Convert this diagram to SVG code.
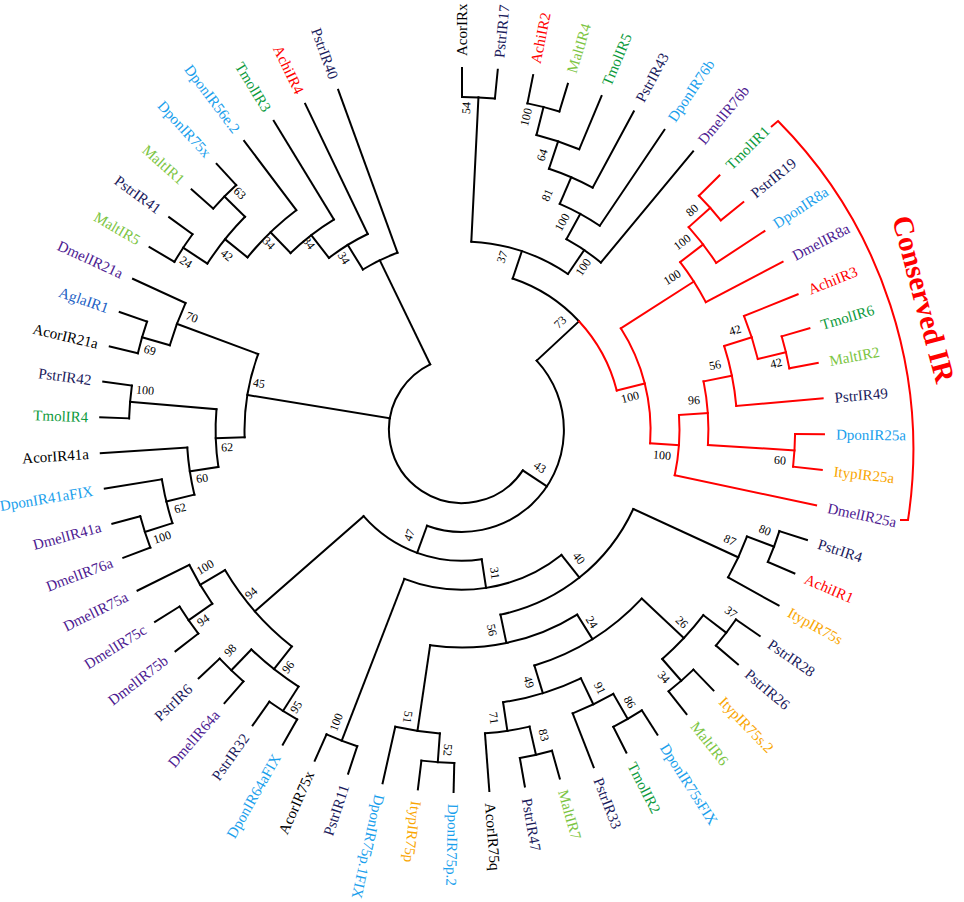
<svg xmlns="http://www.w3.org/2000/svg" width="964" height="902" viewBox="0 0 964 902">
<style>
.lf text{font-family:"Liberation Serif","Times New Roman",serif;font-size:15px}
.bs text{font-family:"Liberation Serif","Times New Roman",serif;font-size:12px;fill:#000}
.k{fill:#000}.n{fill:#1b1b5c}.p{fill:#4d1a91}.d{fill:#1aa0ec}.g{fill:#0c9a3c}.m{fill:#7cc543}.a{fill:#f00}.o{fill:#f9a602}.ag{fill:#2160c4}
.c circle{fill:none}
.rd{stroke:#f00}
</style>
<rect width="964" height="902" fill="#fff"/>
<g id="connectors" class="c" transform="translate(462,430)" fill="none" stroke="#000" stroke-width="2" stroke-linecap="square">
<line x1="333.1" x2="362" transform="rotate(-90)"/>
<line x1="333.1" x2="362" transform="rotate(-84.33)"/>
<line x1="333.1" x2="362" transform="rotate(-78.67)"/>
<line x1="333.1" x2="362" transform="rotate(-73)"/>
<line x1="304.2" x2="362" transform="rotate(-67.33)"/>
<line x1="275.3" x2="362" transform="rotate(-61.67)"/>
<line x1="246.4" x2="362" transform="rotate(-56)"/>
<line x1="217.5" x2="362" transform="rotate(-50.33)"/>
<g class="rd">
<line x1="333.1" x2="362" transform="rotate(-44.67)"/>
<line x1="333.1" x2="362" transform="rotate(-39)"/>
<line x1="304.2" x2="362" transform="rotate(-33.33)"/>
<line x1="275.3" x2="362" transform="rotate(-27.67)"/>
<line x1="304.2" x2="362" transform="rotate(-22)"/>
<line x1="333.1" x2="362" transform="rotate(-16.33)"/>
<line x1="333.1" x2="362" transform="rotate(-10.67)"/>
<line x1="275.3" x2="362" transform="rotate(-5)"/>
<line x1="333.1" x2="362" transform="rotate(0.67)"/>
<line x1="333.1" x2="362" transform="rotate(6.33)"/>
<line x1="217.5" x2="362" transform="rotate(12)"/>
</g>
<line x1="333.1" x2="362" transform="rotate(17.67)"/>
<line x1="333.1" x2="362" transform="rotate(23.33)"/>
<line x1="304.2" x2="362" transform="rotate(29)"/>
<line x1="333.1" x2="362" transform="rotate(34.67)"/>
<line x1="333.1" x2="362" transform="rotate(40.33)"/>
<line x1="333.1" x2="362" transform="rotate(46)"/>
<line x1="333.1" x2="362" transform="rotate(51.67)"/>
<line x1="333.1" x2="362" transform="rotate(57.33)"/>
<line x1="333.1" x2="362" transform="rotate(63)"/>
<line x1="304.2" x2="362" transform="rotate(68.67)"/>
<line x1="333.1" x2="362" transform="rotate(74.33)"/>
<line x1="333.1" x2="362" transform="rotate(80)"/>
<line x1="304.2" x2="362" transform="rotate(85.67)"/>
<line x1="333.1" x2="362" transform="rotate(91.33)"/>
<line x1="333.1" x2="362" transform="rotate(97)"/>
<line x1="304.2" x2="362" transform="rotate(102.67)"/>
<line x1="333.1" x2="362" transform="rotate(108.33)"/>
<line x1="333.1" x2="362" transform="rotate(114)"/>
<line x1="333.1" x2="362" transform="rotate(119.67)"/>
<line x1="333.1" x2="362" transform="rotate(125.33)"/>
<line x1="333.1" x2="362" transform="rotate(131)"/>
<line x1="333.1" x2="362" transform="rotate(136.67)"/>
<line x1="333.1" x2="362" transform="rotate(142.33)"/>
<line x1="333.1" x2="362" transform="rotate(148)"/>
<line x1="304.2" x2="362" transform="rotate(153.67)"/>
<line x1="333.1" x2="362" transform="rotate(159.33)"/>
<line x1="333.1" x2="362" transform="rotate(165)"/>
<line x1="304.2" x2="362" transform="rotate(170.67)"/>
<line x1="275.3" x2="362" transform="rotate(176.33)"/>
<line x1="333.1" x2="362" transform="rotate(182)"/>
<line x1="333.1" x2="362" transform="rotate(187.67)"/>
<line x1="333.1" x2="362" transform="rotate(193.33)"/>
<line x1="333.1" x2="362" transform="rotate(199)"/>
<line x1="304.2" x2="362" transform="rotate(204.67)"/>
<line x1="333.1" x2="362" transform="rotate(210.33)"/>
<line x1="333.1" x2="362" transform="rotate(216)"/>
<line x1="333.1" x2="362" transform="rotate(221.67)"/>
<line x1="333.1" x2="362" transform="rotate(227.33)"/>
<line x1="275.3" x2="362" transform="rotate(233)"/>
<line x1="246.4" x2="362" transform="rotate(238.67)"/>
<line x1="217.5" x2="362" transform="rotate(244.33)"/>
<line x1="188.6" x2="362" transform="rotate(250)"/>
<line x1="304.2" x2="333.1" transform="rotate(224.5)"/><circle r="333.1" pathLength="360" stroke-dasharray="5.67 720" transform="rotate(221.67)"/>
<line x1="304.2" x2="333.1" transform="rotate(213.17)"/><circle r="333.1" pathLength="360" stroke-dasharray="5.67 720" transform="rotate(210.33)"/>
<line x1="275.3" x2="304.2" transform="rotate(218.83)"/><circle r="304.2" pathLength="360" stroke-dasharray="11.33 720" transform="rotate(213.17)"/>
<line x1="246.4" x2="275.3" transform="rotate(225.92)"/><circle r="275.3" pathLength="360" stroke-dasharray="14.17 720" transform="rotate(218.83)"/>
<line x1="217.5" x2="246.4" transform="rotate(232.29)"/><circle r="246.4" pathLength="360" stroke-dasharray="12.75 720" transform="rotate(225.92)"/>
<line x1="188.6" x2="217.5" transform="rotate(238.31)"/><circle r="217.5" pathLength="360" stroke-dasharray="12.04 720" transform="rotate(232.29)"/>
<line x1="73" x2="188.6" transform="rotate(244.16)"/><circle r="188.6" pathLength="360" stroke-dasharray="11.69 720" transform="rotate(238.31)"/>
<line x1="188.6" x2="333.1" transform="rotate(-87.17)"/><circle r="333.1" pathLength="360" stroke-dasharray="5.67 720" transform="rotate(-90)"/>
<line x1="304.2" x2="333.1" transform="rotate(-75.83)"/><circle r="333.1" pathLength="360" stroke-dasharray="5.67 720" transform="rotate(-78.67)"/>
<line x1="275.3" x2="304.2" transform="rotate(-71.58)"/><circle r="304.2" pathLength="360" stroke-dasharray="8.5 720" transform="rotate(-75.83)"/>
<line x1="246.4" x2="275.3" transform="rotate(-66.63)"/><circle r="275.3" pathLength="360" stroke-dasharray="9.91 720" transform="rotate(-71.58)"/>
<line x1="217.5" x2="246.4" transform="rotate(-61.31)"/><circle r="246.4" pathLength="360" stroke-dasharray="10.63 720" transform="rotate(-66.63)"/>
<line x1="188.6" x2="217.5" transform="rotate(-55.82)"/><circle r="217.5" pathLength="360" stroke-dasharray="10.98 720" transform="rotate(-61.31)"/>
<line x1="159.7" x2="188.6" transform="rotate(-71.5)"/><circle r="188.6" pathLength="360" stroke-dasharray="31.35 720" transform="rotate(-87.17)"/>
<line x1="101.9" x2="159.7" transform="rotate(-42.9)"/><circle r="159.7" pathLength="360" stroke-dasharray="28.6 720" transform="rotate(-71.5)"/>
<g class="rd">
<circle r="159.7" pathLength="360" stroke-dasharray="28.6 720" transform="rotate(-42.9)"/>
<line x1="304.2" x2="333.1" transform="rotate(-41.83)"/><circle r="333.1" pathLength="360" stroke-dasharray="5.67 720" transform="rotate(-44.67)"/>
<line x1="275.3" x2="304.2" transform="rotate(-37.58)"/><circle r="304.2" pathLength="360" stroke-dasharray="8.5 720" transform="rotate(-41.83)"/>
<line x1="188.6" x2="275.3" transform="rotate(-32.63)"/><circle r="275.3" pathLength="360" stroke-dasharray="9.91 720" transform="rotate(-37.58)"/>
<line x1="304.2" x2="333.1" transform="rotate(-13.5)"/><circle r="333.1" pathLength="360" stroke-dasharray="5.67 720" transform="rotate(-16.33)"/>
<line x1="275.3" x2="304.2" transform="rotate(-17.75)"/><circle r="304.2" pathLength="360" stroke-dasharray="8.5 720" transform="rotate(-22)"/>
<line x1="246.4" x2="275.3" transform="rotate(-11.38)"/><circle r="275.3" pathLength="360" stroke-dasharray="12.75 720" transform="rotate(-17.75)"/>
<line x1="246.4" x2="333.1" transform="rotate(3.5)"/><circle r="333.1" pathLength="360" stroke-dasharray="5.67 720" transform="rotate(0.67)"/>
<line x1="217.5" x2="246.4" transform="rotate(-3.94)"/><circle r="246.4" pathLength="360" stroke-dasharray="14.88 720" transform="rotate(-11.38)"/>
<line x1="188.6" x2="217.5" transform="rotate(4.03)"/><circle r="217.5" pathLength="360" stroke-dasharray="15.94 720" transform="rotate(-3.94)"/>
<line x1="159.7" x2="188.6" transform="rotate(-14.3)"/><circle r="188.6" pathLength="360" stroke-dasharray="36.66 720" transform="rotate(-32.63)"/>
</g>
<line x1="304.2" x2="333.1" transform="rotate(20.5)"/><circle r="333.1" pathLength="360" stroke-dasharray="5.67 720" transform="rotate(17.67)"/>
<line x1="188.6" x2="304.2" transform="rotate(24.75)"/><circle r="304.2" pathLength="360" stroke-dasharray="8.5 720" transform="rotate(20.5)"/>
<line x1="304.2" x2="333.1" transform="rotate(37.5)"/><circle r="333.1" pathLength="360" stroke-dasharray="5.67 720" transform="rotate(34.67)"/>
<line x1="304.2" x2="333.1" transform="rotate(48.83)"/><circle r="333.1" pathLength="360" stroke-dasharray="5.67 720" transform="rotate(46)"/>
<line x1="246.4" x2="304.2" transform="rotate(43.17)"/><circle r="304.2" pathLength="360" stroke-dasharray="11.33 720" transform="rotate(37.5)"/>
<line x1="304.2" x2="333.1" transform="rotate(60.17)"/><circle r="333.1" pathLength="360" stroke-dasharray="5.67 720" transform="rotate(57.33)"/>
<line x1="275.3" x2="304.2" transform="rotate(64.42)"/><circle r="304.2" pathLength="360" stroke-dasharray="8.5 720" transform="rotate(60.17)"/>
<line x1="304.2" x2="333.1" transform="rotate(77.17)"/><circle r="333.1" pathLength="360" stroke-dasharray="5.67 720" transform="rotate(74.33)"/>
<line x1="275.3" x2="304.2" transform="rotate(81.42)"/><circle r="304.2" pathLength="360" stroke-dasharray="8.5 720" transform="rotate(77.17)"/>
<line x1="246.4" x2="275.3" transform="rotate(72.92)"/><circle r="275.3" pathLength="360" stroke-dasharray="17 720" transform="rotate(64.42)"/>
<line x1="217.5" x2="246.4" transform="rotate(58.04)"/><circle r="246.4" pathLength="360" stroke-dasharray="29.75 720" transform="rotate(43.17)"/>
<line x1="304.2" x2="333.1" transform="rotate(94.17)"/><circle r="333.1" pathLength="360" stroke-dasharray="5.67 720" transform="rotate(91.33)"/>
<line x1="217.5" x2="304.2" transform="rotate(98.42)"/><circle r="304.2" pathLength="360" stroke-dasharray="8.5 720" transform="rotate(94.17)"/>
<line x1="188.6" x2="217.5" transform="rotate(78.23)"/><circle r="217.5" pathLength="360" stroke-dasharray="40.38 720" transform="rotate(58.04)"/>
<line x1="159.7" x2="188.6" transform="rotate(51.49)"/><circle r="188.6" pathLength="360" stroke-dasharray="53.48 720" transform="rotate(24.75)"/>
<line x1="159.7" x2="333.1" transform="rotate(111.17)"/><circle r="333.1" pathLength="360" stroke-dasharray="5.67 720" transform="rotate(108.33)"/>
<line x1="130.8" x2="159.7" transform="rotate(81.33)"/><circle r="159.7" pathLength="360" stroke-dasharray="59.68 720" transform="rotate(51.49)"/>
<line x1="304.2" x2="333.1" transform="rotate(122.5)"/><circle r="333.1" pathLength="360" stroke-dasharray="5.67 720" transform="rotate(119.67)"/>
<line x1="304.2" x2="333.1" transform="rotate(133.83)"/><circle r="333.1" pathLength="360" stroke-dasharray="5.67 720" transform="rotate(131)"/>
<line x1="275.3" x2="304.2" transform="rotate(128.17)"/><circle r="304.2" pathLength="360" stroke-dasharray="11.33 720" transform="rotate(122.5)"/>
<line x1="304.2" x2="333.1" transform="rotate(145.17)"/><circle r="333.1" pathLength="360" stroke-dasharray="5.67 720" transform="rotate(142.33)"/>
<line x1="275.3" x2="304.2" transform="rotate(149.42)"/><circle r="304.2" pathLength="360" stroke-dasharray="8.5 720" transform="rotate(145.17)"/>
<line x1="130.8" x2="275.3" transform="rotate(138.79)"/><circle r="275.3" pathLength="360" stroke-dasharray="21.25 720" transform="rotate(128.17)"/>
<line x1="101.9" x2="130.8" transform="rotate(110.06)"/><circle r="130.8" pathLength="360" stroke-dasharray="57.46 720" transform="rotate(81.33)"/>
<line x1="73" x2="101.9" transform="rotate(33.58)"/><circle r="101.9" pathLength="360" stroke-dasharray="152.96 720" transform="rotate(-42.9)"/>
<line x1="304.2" x2="333.1" transform="rotate(162.17)"/><circle r="333.1" pathLength="360" stroke-dasharray="5.67 720" transform="rotate(159.33)"/>
<line x1="275.3" x2="304.2" transform="rotate(166.42)"/><circle r="304.2" pathLength="360" stroke-dasharray="8.5 720" transform="rotate(162.17)"/>
<line x1="246.4" x2="275.3" transform="rotate(171.38)"/><circle r="275.3" pathLength="360" stroke-dasharray="9.91 720" transform="rotate(166.42)"/>
<line x1="246.4" x2="333.1" transform="rotate(184.83)"/><circle r="333.1" pathLength="360" stroke-dasharray="5.67 720" transform="rotate(182)"/>
<line x1="217.5" x2="246.4" transform="rotate(178.1)"/><circle r="246.4" pathLength="360" stroke-dasharray="13.45 720" transform="rotate(171.38)"/>
<line x1="304.2" x2="333.1" transform="rotate(196.17)"/><circle r="333.1" pathLength="360" stroke-dasharray="5.67 720" transform="rotate(193.33)"/>
<line x1="217.5" x2="304.2" transform="rotate(200.42)"/><circle r="304.2" pathLength="360" stroke-dasharray="8.5 720" transform="rotate(196.17)"/>
<line x1="73" x2="217.5" transform="rotate(189.26)"/><circle r="217.5" pathLength="360" stroke-dasharray="22.32 720" transform="rotate(178.1)"/>
<circle r="73" pathLength="360" stroke-dasharray="210.58 720" transform="rotate(33.58)"/>
</g>
<path id="bracket" d="M771,127 L778,121 A467,467 0 0 1 908,520 L900,520" fill="none" stroke="#f00" stroke-width="2"/>
<text id="conserved" transform="translate(924,299) rotate(75)" text-anchor="middle" dy=".35em" font-family="'Liberation Serif','Times New Roman',serif" font-size="29" font-weight="bold" fill="#f00">Conserved IR</text>
<g class="lf" transform="translate(462,430)">
<g id="n-AcorIRx"><text class="k" transform="rotate(-90) translate(374,0)" dy=".35em">AcorIRx</text></g>
<g id="n-PstrIR17"><text class="n" transform="rotate(-84.33) translate(374,0)" dy=".35em">PstrIR17</text></g>
<g id="n-AchiIR2"><text class="a" transform="rotate(-78.67) translate(374,0)" dy=".35em">AchiIR2</text></g>
<g id="n-MaltIR4"><text class="m" transform="rotate(-73) translate(374,0)" dy=".35em">MaltIR4</text></g>
<g id="n-TmolIR5"><text class="g" transform="rotate(-67.33) translate(374,0)" dy=".35em">TmolIR5</text></g>
<g id="n-PstrIR43"><text class="n" transform="rotate(-61.67) translate(374,0)" dy=".35em">PstrIR43</text></g>
<g id="n-DponIR76b"><text class="d" transform="rotate(-56) translate(374,0)" dy=".35em">DponIR76b</text></g>
<g id="n-DmelIR76b"><text class="p" transform="rotate(-50.33) translate(374,0)" dy=".35em">DmelIR76b</text></g>
<g id="n-TmolIR1"><text class="g" transform="rotate(-44.67) translate(374,0)" dy=".35em">TmolIR1</text></g>
<g id="n-PstrIR19"><text class="n" transform="rotate(-39) translate(374,0)" dy=".35em">PstrIR19</text></g>
<g id="n-DponIR8a"><text class="d" transform="rotate(-33.33) translate(374,0)" dy=".35em">DponIR8a</text></g>
<g id="n-DmelIR8a"><text class="p" transform="rotate(-27.67) translate(374,0)" dy=".35em">DmelIR8a</text></g>
<g id="n-AchiIR3"><text class="a" transform="rotate(-22) translate(374,0)" dy=".35em">AchiIR3</text></g>
<g id="n-TmolIR6"><text class="g" transform="rotate(-16.33) translate(374,0)" dy=".35em">TmolIR6</text></g>
<g id="n-MaltIR2"><text class="m" transform="rotate(-10.67) translate(374,0)" dy=".35em">MaltIR2</text></g>
<g id="n-PstrIR49"><text class="n" transform="rotate(-5) translate(374,0)" dy=".35em">PstrIR49</text></g>
<g id="n-DponIR25a"><text class="d" transform="rotate(0.67) translate(374,0)" dy=".35em">DponIR25a</text></g>
<g id="n-ItypIR25a"><text class="o" transform="rotate(6.33) translate(374,0)" dy=".35em">ItypIR25a</text></g>
<g id="n-DmelIR25a"><text class="p" transform="rotate(12) translate(374,0)" dy=".35em">DmelIR25a</text></g>
<g id="n-PstrIR4"><text class="n" transform="rotate(17.67) translate(374,0)" dy=".35em">PstrIR4</text></g>
<g id="n-AchiIR1"><text class="a" transform="rotate(23.33) translate(374,0)" dy=".35em">AchiIR1</text></g>
<g id="n-ItypIR75s"><text class="o" transform="rotate(29) translate(374,0)" dy=".35em">ItypIR75s</text></g>
<g id="n-PstrIR28"><text class="n" transform="rotate(34.67) translate(374,0)" dy=".35em">PstrIR28</text></g>
<g id="n-PstrIR26"><text class="n" transform="rotate(40.33) translate(374,0)" dy=".35em">PstrIR26</text></g>
<g id="n-ItypIR75s-2"><text class="o" transform="rotate(46) translate(374,0)" dy=".35em">ItypIR75s.2</text></g>
<g id="n-MaltIR6"><text class="m" transform="rotate(51.67) translate(374,0)" dy=".35em">MaltIR6</text></g>
<g id="n-DponIR75sFIX"><text class="d" transform="rotate(57.33) translate(374,0)" dy=".35em">DponIR75sFIX</text></g>
<g id="n-TmolIR2"><text class="g" transform="rotate(63) translate(374,0)" dy=".35em">TmolIR2</text></g>
<g id="n-PstrIR33"><text class="n" transform="rotate(68.67) translate(374,0)" dy=".35em">PstrIR33</text></g>
<g id="n-MaltIR7"><text class="m" transform="rotate(74.33) translate(374,0)" dy=".35em">MaltIR7</text></g>
<g id="n-PstrIR47"><text class="n" transform="rotate(80) translate(374,0)" dy=".35em">PstrIR47</text></g>
<g id="n-AcorIR75q"><text class="k" transform="rotate(85.67) translate(374,0)" dy=".35em">AcorIR75q</text></g>
<g id="n-DponIR75p-2"><text class="d" transform="rotate(91.33) translate(374,0)" dy=".35em">DponIR75p.2</text></g>
<g id="n-ItypIR75p"><text class="o" transform="rotate(97) translate(374,0)" dy=".35em">ItypIR75p</text></g>
<g id="n-DponIR75p-1FIX"><text class="d" transform="rotate(102.67) translate(374,0)" dy=".35em">DponIR75p.1FIX</text></g>
<g id="n-PstrIR11"><text class="n" transform="rotate(108.33) translate(374,0) rotate(180)" text-anchor="end" dy=".35em">PstrIR11</text></g>
<g id="n-AcorIR75x"><text class="k" transform="rotate(114) translate(374,0) rotate(180)" text-anchor="end" dy=".35em">AcorIR75x</text></g>
<g id="n-DponIR64aFIX"><text class="d" transform="rotate(119.67) translate(374,0) rotate(180)" text-anchor="end" dy=".35em">DponIR64aFIX</text></g>
<g id="n-PstrIR32"><text class="n" transform="rotate(125.33) translate(374,0) rotate(180)" text-anchor="end" dy=".35em">PstrIR32</text></g>
<g id="n-DmelIR64a"><text class="p" transform="rotate(131) translate(374,0) rotate(180)" text-anchor="end" dy=".35em">DmelIR64a</text></g>
<g id="n-PstrIR6"><text class="n" transform="rotate(136.67) translate(374,0) rotate(180)" text-anchor="end" dy=".35em">PstrIR6</text></g>
<g id="n-DmelIR75b"><text class="p" transform="rotate(142.33) translate(374,0) rotate(180)" text-anchor="end" dy=".35em">DmelIR75b</text></g>
<g id="n-DmelIR75c"><text class="p" transform="rotate(148) translate(374,0) rotate(180)" text-anchor="end" dy=".35em">DmelIR75c</text></g>
<g id="n-DmelIR75a"><text class="p" transform="rotate(153.67) translate(374,0) rotate(180)" text-anchor="end" dy=".35em">DmelIR75a</text></g>
<g id="n-DmelIR76a"><text class="p" transform="rotate(159.33) translate(374,0) rotate(180)" text-anchor="end" dy=".35em">DmelIR76a</text></g>
<g id="n-DmelIR41a"><text class="p" transform="rotate(165) translate(374,0) rotate(180)" text-anchor="end" dy=".35em">DmelIR41a</text></g>
<g id="n-DponIR41aFIX"><text class="d" transform="rotate(170.67) translate(374,0) rotate(180)" text-anchor="end" dy=".35em">DponIR41aFIX</text></g>
<g id="n-AcorIR41a"><text class="k" transform="rotate(176.33) translate(374,0) rotate(180)" text-anchor="end" dy=".35em">AcorIR41a</text></g>
<g id="n-TmolIR4"><text class="g" transform="rotate(182) translate(374,0) rotate(180)" text-anchor="end" dy=".35em">TmolIR4</text></g>
<g id="n-PstrIR42"><text class="n" transform="rotate(187.67) translate(374,0) rotate(180)" text-anchor="end" dy=".35em">PstrIR42</text></g>
<g id="n-AcorIR21a"><text class="k" transform="rotate(193.33) translate(374,0) rotate(180)" text-anchor="end" dy=".35em">AcorIR21a</text></g>
<g id="n-AglaIR1"><text class="ag" transform="rotate(199) translate(374,0) rotate(180)" text-anchor="end" dy=".35em">AglaIR1</text></g>
<g id="n-DmelIR21a"><text class="p" transform="rotate(204.67) translate(374,0) rotate(180)" text-anchor="end" dy=".35em">DmelIR21a</text></g>
<g id="n-MaltIR5"><text class="m" transform="rotate(210.33) translate(374,0) rotate(180)" text-anchor="end" dy=".35em">MaltIR5</text></g>
<g id="n-PstrIR41"><text class="n" transform="rotate(216) translate(374,0) rotate(180)" text-anchor="end" dy=".35em">PstrIR41</text></g>
<g id="n-MaltIR1"><text class="m" transform="rotate(221.67) translate(374,0) rotate(180)" text-anchor="end" dy=".35em">MaltIR1</text></g>
<g id="n-DponIR75x"><text class="d" transform="rotate(227.33) translate(374,0) rotate(180)" text-anchor="end" dy=".35em">DponIR75x</text></g>
<g id="n-DponIR56e-2"><text class="d" transform="rotate(233) translate(374,0) rotate(180)" text-anchor="end" dy=".35em">DponIR56e.2</text></g>
<g id="n-TmolIR3"><text class="g" transform="rotate(238.67) translate(374,0) rotate(180)" text-anchor="end" dy=".35em">TmolIR3</text></g>
<g id="n-AchiIR4"><text class="a" transform="rotate(244.33) translate(374,0) rotate(180)" text-anchor="end" dy=".35em">AchiIR4</text></g>
<g id="n-PstrIR40"><text class="n" transform="rotate(250) translate(374,0) rotate(180)" text-anchor="end" dy=".35em">PstrIR40</text></g>
</g>
<g id="bootstrap" class="bs" text-anchor="middle">
<text transform="translate(466,108) rotate(-87)" dy=".35em">54</text>
<text transform="translate(526,117) rotate(-75.8)" dy=".35em">100</text>
<text transform="translate(542,155) rotate(-71.6)" dy=".35em">64</text>
<text transform="translate(547,195) rotate(-66.6)" dy=".35em">81</text>
<text transform="translate(562,222) rotate(-61.3)" dy=".35em">100</text>
<text transform="translate(583,267) rotate(-55.8)" dy=".35em">100</text>
<text transform="translate(502,257) rotate(-71.5)" dy=".35em">37</text>
<text transform="translate(560,322) rotate(-42.9)" dy=".35em">73</text>
<text transform="translate(692,210) rotate(-41.8)" dy=".35em">80</text>
<text transform="translate(682,242) rotate(-37.6)" dy=".35em">100</text>
<text transform="translate(672,277) rotate(-32.6)" dy=".35em">100</text>
<text transform="translate(630,397) rotate(-14.3)" dy=".35em">100</text>
<text transform="translate(662,455) rotate(4)" dy=".35em">100</text>
<text transform="translate(694,400) rotate(-3.9)" dy=".35em">96</text>
<text transform="translate(715,365) rotate(-11.4)" dy=".35em">56</text>
<text transform="translate(735,330) rotate(-17.75)" dy=".35em">42</text>
<text transform="translate(776,363) rotate(-13.5)" dy=".35em">42</text>
<text transform="translate(780,460) rotate(3.5)" dy=".35em">60</text>
<text transform="translate(765,530) rotate(20.5)" dy=".35em">80</text>
<text transform="translate(730,540) rotate(24.75)" dy=".35em">87</text>
<text transform="translate(579,558) rotate(51.5)" dy=".35em">40</text>
<text transform="translate(495,573) rotate(81.3)" dy=".35em">31</text>
<text transform="translate(540,467) rotate(33.6)" dy=".35em">43</text>
<text transform="translate(409,535) rotate(-69.9)" dy=".35em">47</text>
<text transform="translate(259,383) rotate(9.3)" dy=".35em">45</text>
<text transform="translate(682,622) rotate(43.2)" dy=".35em">26</text>
<text transform="translate(592,622) rotate(58)" dy=".35em">24</text>
<text transform="translate(492,630) rotate(78.2)" dy=".35em">56</text>
<text transform="translate(731,612) rotate(37.5)" dy=".35em">37</text>
<text transform="translate(664,677) rotate(48.8)" dy=".35em">34</text>
<text transform="translate(529,682) rotate(72.9)" dy=".35em">49</text>
<text transform="translate(600,688) rotate(64.4)" dy=".35em">91</text>
<text transform="translate(630,702) rotate(60.2)" dy=".35em">86</text>
<text transform="translate(494,718) rotate(81.4)" dy=".35em">71</text>
<text transform="translate(544,735) rotate(77.2)" dy=".35em">83</text>
<text transform="translate(408,717) rotate(98.4)" dy=".35em">51</text>
<text transform="translate(448,750) rotate(94.2)" dy=".35em">52</text>
<text transform="translate(336,722) rotate(-68.8)" dy=".35em">100</text>
<text transform="translate(288,667) rotate(-51.8)" dy=".35em">96</text>
<text transform="translate(296,707) rotate(-57.5)" dy=".35em">95</text>
<text transform="translate(230,650) rotate(-46.2)" dy=".35em">98</text>
<text transform="translate(203,620) rotate(-34.8)" dy=".35em">94</text>
<text transform="translate(205,567) rotate(-30.6)" dy=".35em">100</text>
<text transform="translate(251,593) rotate(-41.2)" dy=".35em">94</text>
<text transform="translate(180,508) rotate(-13.6)" dy=".35em">62</text>
<text transform="translate(162,537) rotate(-17.8)" dy=".35em">100</text>
<text transform="translate(202,478) rotate(-8.6)" dy=".35em">60</text>
<text transform="translate(227,447) rotate(-1.9)" dy=".35em">62</text>
<text transform="translate(145,390) rotate(4.8)" dy=".35em">100</text>
<text transform="translate(150,350) rotate(16.2)" dy=".35em">69</text>
<text transform="translate(192,317) rotate(20.4)" dy=".35em">70</text>
<text transform="translate(186,262) rotate(33.2)" dy=".35em">24</text>
<text transform="translate(227,255) rotate(38.8)" dy=".35em">42</text>
<text transform="translate(240,193) rotate(44.5)" dy=".35em">63</text>
<text transform="translate(269,243) rotate(45.9)" dy=".35em">34</text>
<text transform="translate(309,243) rotate(52.3)" dy=".35em">34</text>
<text transform="translate(344,258) rotate(58.3)" dy=".35em">34</text>
</g>
</svg>
